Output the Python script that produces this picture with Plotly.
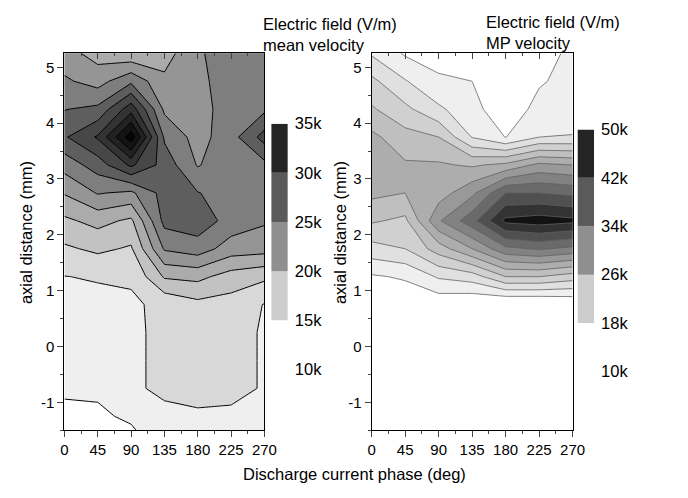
import numpy as np
import plotly.graph_objects as go

# ---- grid ----------------------------------------------------------------
phase_deg = [0, 45, 90, 135, 180, 225, 270]
axial_mm = [-1.75, -1.25, -0.75, -0.25, 0.25, 0.75, 1.25, 1.75,
            2.25, 2.75, 3.25, 3.75, 4.25, 4.75, 5.25]
axial_ticks = [-1, 0, 1, 2, 3, 4, 5]
axial_tick_text = ["-1", "0", "1", "2", "3", "4", "5"]

# Electric field from the mean velocity (kV/m), one list per phase, bottom -> top
mean_000 = [9.0, 9.6, 10.25, 10.8, 11.4, 11.9, 12.45, 14.6, 17.0, 20.2, 23.5, 27.2, 24.9, 22.9, 21.0]
mean_045 = [9.2, 9.6, 10.4, 11.0, 11.5, 11.8, 12.7, 15.5, 18.3, 22.7, 26.2, 30.3, 25.6, 21.5, 19.0]
mean_090 = [9.0, 10.4, 12.18, 12.18, 12.18, 12.18, 12.77, 14.7, 17.0, 22.0, 30.5, 39.0, 31.5, 24.5, 18.0]
mean_135 = [11.0, 12.0, 12.9, 12.9, 12.9, 13.0, 17.8, 22.8, 25.8, 26.0, 26.5, 24.6, 22.0, 20.5, 19.0]
mean_180 = [11.5, 12.2, 13.2, 13.3, 13.3, 14.3, 18.2, 23.8, 26.5, 25.1, 22.3, 21.5, 21.0, 21.5, 22.0]
mean_225 = [11.5, 12.1, 13.1, 13.1, 13.1, 14.0, 16.4, 21.3, 24.0, 24.0, 24.3, 24.0, 24.3, 24.4, 24.4]
mean_270 = [11.5, 12.0, 12.33, 12.33, 12.33, 12.4, 15.5, 21.0, 22.8, 23.5, 24.3, 28.5, 24.5, 24.0, 23.5]

# Electric field from the most-probable velocity (kV/m)
mp_000 = [2.0, 2.0, 2.0, 3.0, 4.0, 6.0, 9.5, 16.5, 22.5, 27.0, 28.5, 27.0, 22.5, 19.0, 13.5]
mp_045 = [2.0, 2.0, 2.0, 3.0, 4.5, 7.0, 10.5, 18.0, 21.1, 26.0, 26.5, 23.5, 19.0, 14.3, 9.5]
mp_090 = [2.0, 2.0, 2.0, 3.0, 4.5, 7.0, 14.5, 24.0, 33.5, 28.0, 26.5, 22.0, 14.7, 10.6, 8.5]
mp_135 = [2.0, 2.0, 2.0, 3.0, 4.0, 6.0, 16.0, 30.0, 40.5, 33.0, 25.5, 13.8, 11.5, 10.0, 8.0]
mp_180 = [2.0, 2.0, 2.0, 2.5, 3.0, 5.0, 22.0, 37.0, 51.0, 42.0, 27.0, 9.9, 7.0, 6.0, 5.5]
mp_225 = [2.0, 2.0, 2.0, 2.5, 3.0, 5.0, 22.0, 38.5, 52.0, 42.0, 31.0, 14.0, 11.5, 9.5, 8.5]
mp_270 = [2.0, 2.0, 2.0, 2.5, 3.0, 6.0, 20.0, 37.0, 51.0, 41.0, 30.0, 14.2, 12.0, 11.5, 10.8]

# contour levels (kV/m)
mean_levels = dict(start=10, end=37.5, size=2.5)
mp_levels = dict(start=10, end=50, size=4)

# band fills, lowest band first
mean_fills = ["#ffffff", "#efefef", "#d8d8d8", "#c2c2c2", "#ababab", "#959595",
              "#7e7e7e", "#5e5e5e", "#474747", "#333333", "#222222", "#131313", "#050505"]
mp_fills = ["#ffffff", "#efefef", "#e0e0e0", "#d0d0d0", "#bfbfbf", "#adadad",
            "#999999", "#828282", "#6a6a6a", "#505050", "#333333", "#121212"]

# colour-bar legends
mean_bar_edges = [10, 15, 20, 25, 30, 35]
mean_bar_colors = ["#ffffff", "#cdcdcd", "#8f8f8f", "#5a5a5a", "#242424"]
mean_bar_labels = ["10k", "15k", "20k", "25k", "30k", "35k"]
mp_bar_edges = [10, 18, 26, 34, 42, 50]
mp_bar_colors = ["#ffffff", "#cdcdcd", "#8f8f8f", "#5a5a5a", "#242424"]
mp_bar_labels = ["10k", "18k", "26k", "34k", "42k", "50k"]

W, H = 688, 498
FONT = "Liberation Sans, Arial, sans-serif"


def px_x(p):
    return p / W


def px_y(p):
    return 1 - p / H


def stepped_scale(colors):
    n = len(colors) - 1
    return [[i / n, c] for i, c in enumerate(colors)]


z_mean = np.array([mean_000, mean_045, mean_090, mean_135, mean_180, mean_225, mean_270]).T
z_mp = np.array([mp_000, mp_045, mp_090, mp_135, mp_180, mp_225, mp_270]).T

fig = go.Figure()

fig.add_trace(go.Contour(
    x=phase_deg, y=axial_mm, z=z_mean,
    autocontour=False,
    contours=dict(coloring="fill", showlines=True, **mean_levels),
    line=dict(color="black", width=1, smoothing=0),
    colorscale=stepped_scale(mean_fills), showscale=False,
    hoverinfo="skip", xaxis="x", yaxis="y"))

fig.add_trace(go.Contour(
    x=phase_deg, y=axial_mm, z=z_mp,
    autocontour=False,
    contours=dict(coloring="fill", showlines=True, **mp_levels),
    line=dict(color="#5f5f5f", width=0.8, smoothing=0),
    colorscale=stepped_scale(mp_fills), showscale=False,
    hoverinfo="skip", xaxis="x2", yaxis="y2"))

# invisible traces so the top tick axes are drawn
for xa, ya in (("x3", "y"), ("x4", "y2")):
    fig.add_trace(go.Scatter(x=[0], y=[0], mode="markers", marker=dict(opacity=0),
                             hoverinfo="skip", showlegend=False, xaxis=xa, yaxis=ya))

# colour bars drawn as stacked bars
for edges, colors, xa, ya in ((mean_bar_edges, mean_bar_colors, "x5", "y5"),
                              (mp_bar_edges, mp_bar_colors, "x6", "y6")):
    fig.add_trace(go.Bar(
        x=[0] * len(colors), y=list(np.diff(edges)), base=edges[:-1],
        width=1, marker=dict(color=colors, line=dict(width=0)),
        hoverinfo="skip", showlegend=False, xaxis=xa, yaxis=ya))

plot_dom_y = [px_y(437), px_y(46)]
left_dom_x = [px_x(62), px_x(267)]
right_dom_x = [px_x(377), px_x(583)]

tickfont = dict(family=FONT, size=15, color="black")


def main_x(domain, anchor):
    return dict(domain=domain, anchor=anchor, range=[0, 270],
                tickvals=phase_deg, ticks="outside", ticklen=6, tickwidth=1.2,
                minor=dict(dtick=22.5, tick0=0, ticks="outside", ticklen=3, tickwidth=1.2),
                showline=True, linecolor="black", linewidth=1.3, mirror=True,
                showgrid=False, zeroline=False, tickfont=tickfont)


def top_x(overlay, anchor):
    return dict(overlaying=overlay, anchor=anchor, side="top", range=[0, 270],
                tickvals=phase_deg, ticks="inside", ticklen=6, tickwidth=1.2,
                minor=dict(dtick=22.5, tick0=0, ticks="inside", ticklen=3, tickwidth=1.2),
                showticklabels=False, showline=False, showgrid=False, zeroline=False)


def main_y(anchor):
    return dict(domain=plot_dom_y, anchor=anchor, range=[-1.5, 5.25],
                tickvals=axial_ticks, ticktext=axial_tick_text,
                ticks="outside", ticklen=6, tickwidth=1.2,
                minor=dict(dtick=0.5, tick0=0, ticks="outside", ticklen=3, tickwidth=1.2),
                showline=True, linecolor="black", linewidth=1.3, mirror=True,
                showgrid=False, zeroline=False, tickfont=tickfont)


def bar_y(domain, anchor, edges, labels):
    return dict(domain=domain, anchor=anchor, side="right", range=[edges[0], edges[-1]],
                tickvals=edges, ticktext=labels, ticks="", showline=False,
                showgrid=False, zeroline=False, ticklabelstandoff=6,
                tickfont=dict(family=FONT, size=16.5, color="black"))


bar_x = dict(range=[-0.5, 0.5], visible=False)

fig.update_layout(
    width=W, height=H,
    margin=dict(l=0, r=0, t=0, b=0),
    paper_bgcolor="white", plot_bgcolor="white",
    showlegend=False, barmode="overlay",
    font=dict(family=FONT, color="black"),
    xaxis=main_x(left_dom_x, "y"),
    yaxis=main_y("x"),
    xaxis2=main_x(right_dom_x, "y2"),
    yaxis2=main_y("x2"),
    xaxis3=top_x("x", "y"),
    xaxis4=top_x("x2", "y2"),
    xaxis5=dict(domain=[px_x(274), px_x(291)], anchor="y5", **bar_x),
    yaxis5=bar_y([px_y(374), px_y(119)], "x5", mean_bar_edges, mean_bar_labels),
    xaxis6=dict(domain=[px_x(588), px_x(605)], anchor="y6", **bar_x),
    yaxis6=bar_y([px_y(376), px_y(125)], "x6", mp_bar_edges, mp_bar_labels),
)

label_font = dict(family=FONT, size=16.5, color="black")
notes = [
    dict(text="axial distance (mm)", x=px_x(22), y=px_y(232), textangle=-90),
    dict(text="axial distance (mm)", x=px_x(344), y=px_y(232), textangle=-90),
    dict(text="Discharge current phase (deg)", x=px_x(359), y=px_y(482)),
    dict(text="Electric field (V/m)", x=px_x(264), y=px_y(16), xanchor="left"),
    dict(text="mean velocity", x=px_x(264), y=px_y(37), xanchor="left"),
    dict(text="Electric field (V/m)", x=px_x(492), y=px_y(13), xanchor="left"),
    dict(text="MP velocity", x=px_x(492), y=px_y(35), xanchor="left"),
]
for n in notes:
    fig.add_annotation(xref="paper", yref="paper", showarrow=False,
                       font=label_font, **{"xanchor": "center", "yanchor": "middle", **n})

fig.write_html("out.html")
